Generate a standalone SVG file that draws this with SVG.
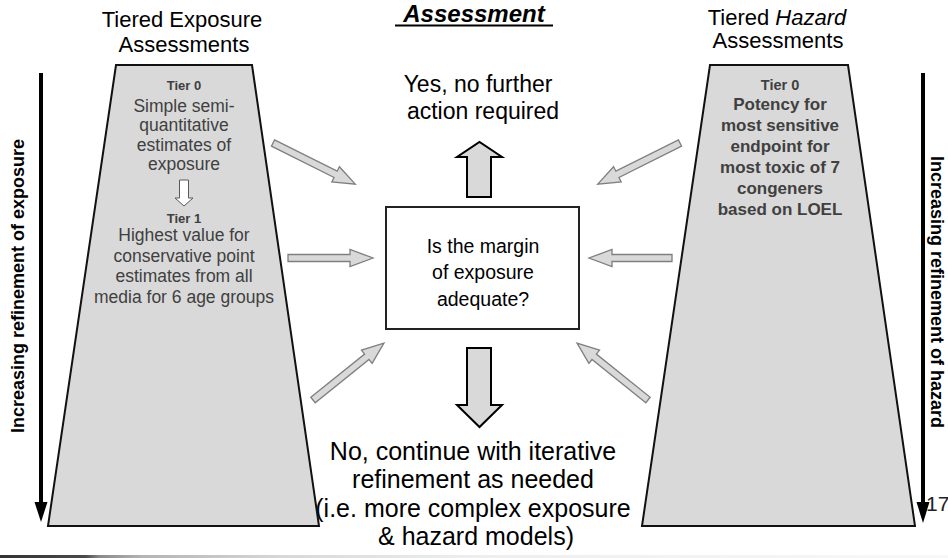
<svg xmlns="http://www.w3.org/2000/svg" width="948" height="558" viewBox="0 0 948 558">
  <defs>
    <linearGradient id="footerShade" x1="0" y1="0" x2="1" y2="0">
      <stop offset="0" stop-color="#333"/>
      <stop offset="0.09" stop-color="#4a4a4a"/>
      <stop offset="0.105" stop-color="#8a8a8a"/>
      <stop offset="0.15" stop-color="#b4b4b4"/>
      <stop offset="0.3" stop-color="#d8d8d8"/>
      <stop offset="0.5" stop-color="#eeeeee"/>
      <stop offset="1" stop-color="#f8f8f8"/>
    </linearGradient>
  </defs>
  <style>
    text { font-family: "Liberation Sans", Arial, sans-serif; }
    .title { font-size: 22px; fill: #000; text-anchor: middle; }
    .head { font-size: 24px; font-weight: bold; font-style: italic; fill: #000; text-anchor: middle; }
    .outcome { font-size: 23px; fill: #000; text-anchor: middle; }
    .outcomeNo { font-size: 25px; fill: #000; text-anchor: middle; }
    .question { font-size: 19.5px; fill: #000; text-anchor: middle; }
    .tier { fill: #d9d9d9; stroke: #111; stroke-width: 2; stroke-linejoin: miter; }
    .tierLbl { font-size: 13px; font-weight: bold; fill: #404040; text-anchor: middle; }
    .expTxt { font-size: 17.5px; fill: #404040; text-anchor: middle; }
    .hazTxt { font-size: 17px; font-weight: bold; fill: #404040; text-anchor: middle; }
    .axis { stroke: #000; stroke-width: 4; fill: none; }
    .axisHead { fill: #000; }
    .axisLbl { font-size: 18px; font-weight: bold; fill: #000; text-anchor: middle; }
    .feed { fill: #d9d9d9; stroke: #7f7f7f; stroke-width: 1.3; stroke-linejoin: miter; }
    .bigArrow { fill: #d9d9d9; stroke: #000; stroke-width: 2; stroke-linejoin: miter; }
    .box { fill: #fff; stroke: #222; stroke-width: 2; }
  </style>

  <rect width="948" height="558" fill="#fff"/>

  <!-- headings -->
  <g id="exposure-heading">
    <text class="title" x="182" y="27">Tiered Exposure</text>
    <text class="title" x="184" y="52">Assessments</text>
  </g>
  <g id="assessment-heading">
    <text class="head" x="474" y="22">Assessment</text>
    <line x1="395" y1="25.5" x2="553" y2="25.5" stroke="#000" stroke-width="2"/>
  </g>
  <g id="hazard-heading">
    <text class="title" x="777" y="25">Tiered <tspan font-style="italic">Hazard</tspan></text>
    <text class="title" x="778" y="48">Assessments</text>
  </g>

  <!-- outcomes -->
  <g id="outcome-yes">
    <text class="outcome" x="478" y="92">Yes, no further</text>
    <text class="outcome" x="483" y="119">action required</text>
  </g>
  <g id="outcome-no">
    <text class="outcomeNo" x="473" y="460">No, continue with iterative</text>
    <text class="outcomeNo" x="473" y="488">refinement as needed</text>
    <text class="outcomeNo" x="473" y="517">(i.e. more complex exposure</text>
    <text class="outcomeNo" x="476" y="545">&amp; hazard models)</text>
  </g>

  <!-- exposure tiers -->
  <g id="exposure-tiers">
    <polygon class="tier" points="116,65 252,65 319,526 48,526"/>
    <text class="tierLbl" x="184" y="90">Tier 0</text>
    <text class="expTxt" x="184" y="112">Simple semi-</text>
    <text class="expTxt" x="184" y="131">quantitative</text>
    <text class="expTxt" x="184" y="150.5">estimates of</text>
    <text class="expTxt" x="184" y="170">exposure</text>
    <path d="M179.5,180 V198 H175 L184,206 L193,198 H188.5 V180 Z" fill="#fff" stroke="#595959" stroke-width="1"/>
    <text class="tierLbl" x="184" y="223">Tier 1</text>
    <text class="expTxt" x="184" y="241">Highest value for</text>
    <text class="expTxt" x="184" y="261.5">conservative point</text>
    <text class="expTxt" x="184" y="282">estimates from all</text>
    <text class="expTxt" x="184" y="302.5">media for 6 age groups</text>
  </g>

  <!-- hazard tiers -->
  <g id="hazard-tiers">
    <polygon class="tier" points="710,65 848,65 915,526 642,526"/>
    <text class="tierLbl" x="780" y="90" style="font-size:14.5px">Tier 0</text>
    <text class="hazTxt" x="780" y="110">Potency for</text>
    <text class="hazTxt" x="780" y="131">most sensitive</text>
    <text class="hazTxt" x="780" y="152">endpoint for</text>
    <text class="hazTxt" x="780" y="172.5">most toxic of 7</text>
    <text class="hazTxt" x="780" y="193.5">congeners</text>
    <text class="hazTxt" x="780" y="214.5">based on LOEL</text>
  </g>

  <!-- decision -->
  <g id="decision">
    <rect class="box" x="386" y="207" width="193" height="122"/>
    <text class="question" x="483" y="253">Is the margin</text>
    <text class="question" x="483" y="279">of exposure</text>
    <text class="question" x="483" y="306">adequate?</text>
  </g>

  <!-- refinement axes -->
  <g id="exposure-axis">
    <line class="axis" x1="41" y1="73" x2="41" y2="505"/>
    <polygon class="axisHead" points="34.5,502 47.5,502 41,522"/>
    <text class="axisLbl" transform="translate(24,286) rotate(-90)">Increasing refinement of exposure</text>
  </g>
  <g id="hazard-axis">
    <line class="axis" x1="923" y1="73" x2="923" y2="505"/>
    <polygon class="axisHead" points="916.5,502 929.5,502 923,523"/>
    <text class="axisLbl" transform="translate(931,292) rotate(90)">Increasing refinement  of hazard</text>
  </g>

  <text id="page-number" x="926" y="511" font-size="21" fill="#222" font-family="Liberation Sans, Arial, sans-serif">17</text>

  <!-- connectors -->
  <g id="connectors">
    <path class="feed" transform="translate(273,143) rotate(26.57)" d="M0,-3.5 H70 V-8.5 L92,0 L70,8.5 V3.5 H0 Z"/>
    <path class="feed" transform="translate(680,143) rotate(153.43)" d="M0,-3.5 H70 V-8.5 L92,0 L70,8.5 V3.5 H0 Z"/>
    <path class="feed" transform="translate(288,258)" d="M0,-3.5 H62 V-8.5 L85,0 L62,8.5 V3.5 H0 Z"/>
    <path class="feed" transform="translate(672,258) rotate(180)" d="M0,-3.5 H60 V-8.5 L83,0 L60,8.5 V3.5 H0 Z"/>
    <path class="feed" transform="translate(313,400) rotate(-38.76)" d="M0,-3.5 H69 V-8.5 L91,0 L69,8.5 V3.5 H0 Z"/>
    <path class="feed" transform="translate(648,400) rotate(-141.24)" d="M0,-3.5 H69 V-8.5 L91,0 L69,8.5 V3.5 H0 Z"/>
    <path class="bigArrow" d="M467,197 V157 H457 L479.5,142 L502,157 H491 V197 Z"/>
    <path class="bigArrow" d="M467,348 V405 H457 L479.5,427 L502,405 H491 V348 Z"/>
  </g>

  <!-- footer band -->
  <rect x="0" y="555" width="948" height="3" fill="url(#footerShade)"/>
</svg>
